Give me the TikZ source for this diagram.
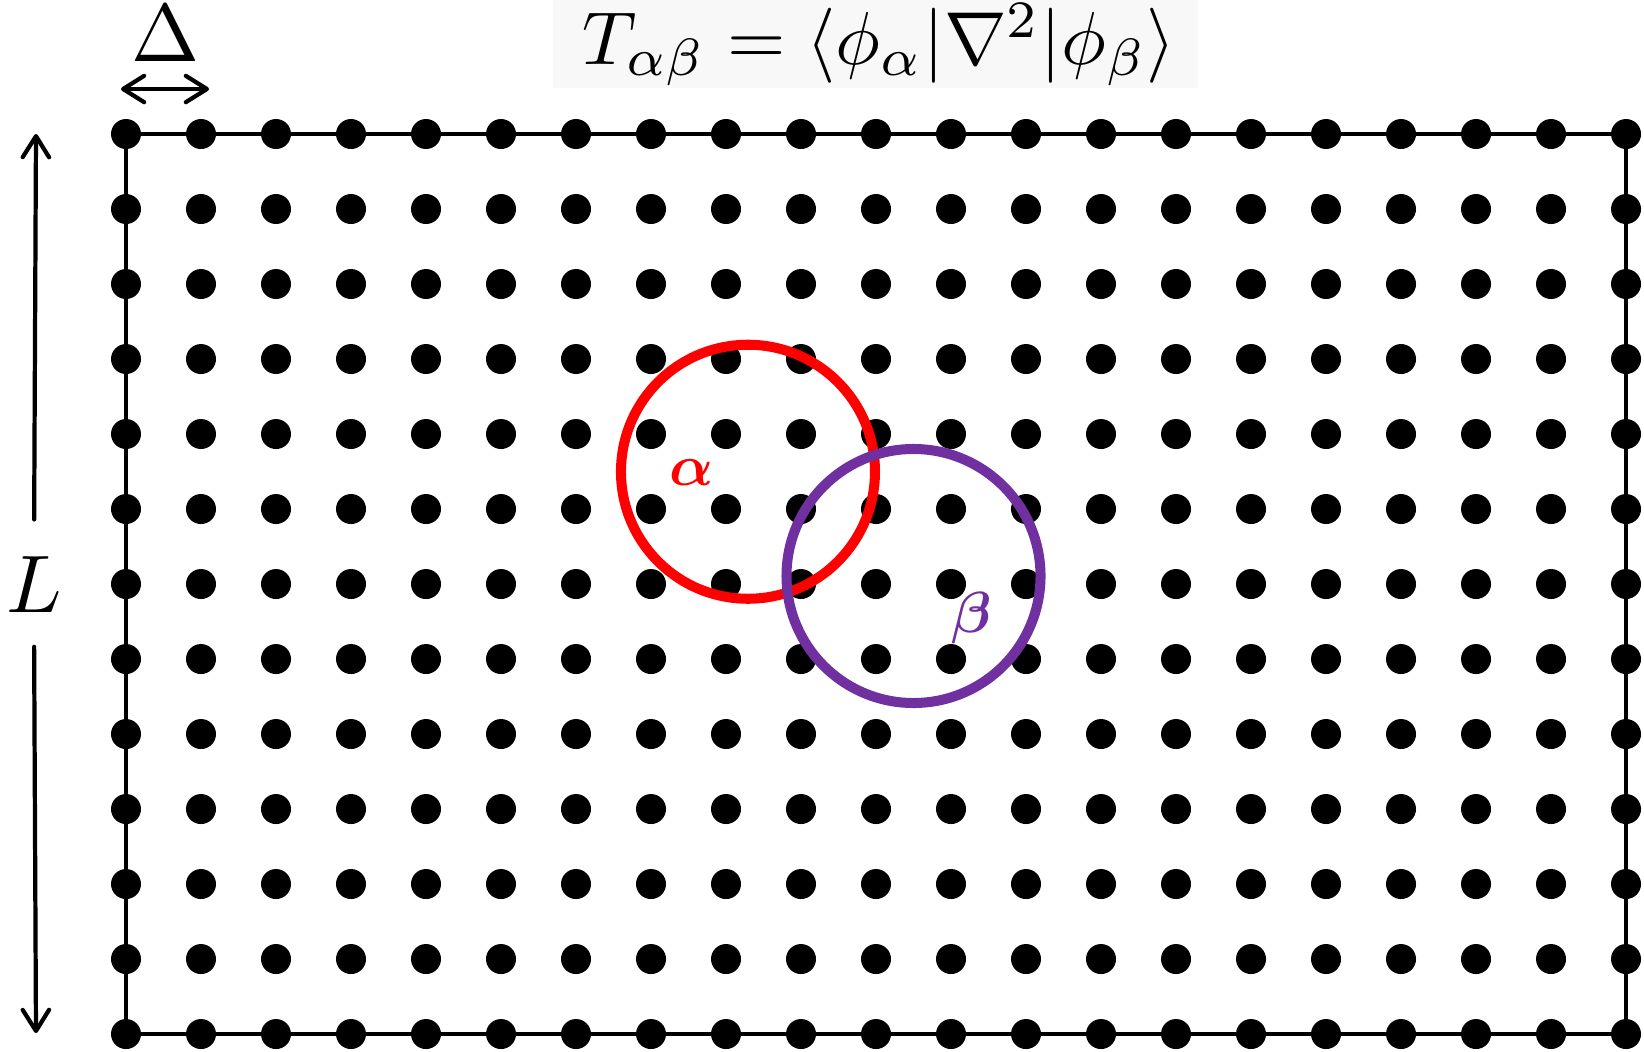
\documentclass[tikz,border=0pt]{standalone}
\usepackage{amsmath}
\usepackage{amssymb}
\usepackage{bm}
\usepackage{tikz}
\usetikzlibrary{arrows.meta,calc,positioning}

\definecolor{orbpurple}{RGB}{112,48,160}
\definecolor{boxgray}{RGB}{248,248,248}

\tikzset{
  site/.style={circle,fill=black,inner sep=0pt,minimum size=0.4cm},
  orbital/.style={circle,draw=#1,line width=3.8pt,inner sep=0pt,minimum size=3.387cm},
  barb/.style={line width=1.6pt,line cap=round},
  dim/.style={barb,{Straight Barb[length=8pt,width=10pt,round]}-{Straight Barb[length=8pt,width=10pt,round]}},
}

\begin{document}
\begin{tikzpicture}
    \useasboundingbox (-1.68,-0.227) rectangle (20.24,13.787);

    % formula at the top
    \fill[boxgray] (5.693,12.613) rectangle (14.293,13.787);
    \node[anchor=base west,inner sep=0pt,scale=2.85] (Tab) at (6.07,12.93)
      {$T_{\alpha\beta} = \langle \phi_\alpha | \nabla^2 | \phi_\beta \rangle$};

    % grid points
    \foreach \i in {0,...,20}
      \foreach \j in {0,...,12}
        \node[site] (s\i-\j) at (\i,\j) {};
    \draw[line width=1.5pt] (s0-0.center) rectangle (s20-12.center);

    % lattice spacing
    \coordinate (dl) at (-0.067,12.6);
    \coordinate (dr) at (1.107,12.6);
    \draw[dim] (dl) -- (dr);
    \node[inner sep=0pt,scale=3.1] (Delta) at (0.533,13.333) {$\Delta$};

    % box length
    \coordinate (lt) at (-1.2,12);
    \coordinate (lb) at (-1.2,0.013);
    \node[inner sep=0pt,scale=3.1] (Lbl) at (-1.227,5.987) {$L$};
    \draw[barb,-{Straight Barb[length=8pt,width=10pt,round]},shorten <=0.48cm] (Lbl.north) -- (lt);
    \draw[barb,-{Straight Barb[length=8pt,width=10pt,round]},shorten <=0.43cm] (Lbl.south) -- (lb);

    % orbitals
    \node[orbital=red] (orbA) at (8.293,7.497) {};
    \node[orbital=orbpurple] (orbB) at (10.5,6.107) {};
    \node[red,scale=2.2] (alab) at (7.54,7.48) {$\bm{\alpha}$};
    \node[orbpurple,scale=2.2] (blab) at (11.276,5.55) {$\bm{\beta}$};
  \end{tikzpicture}
\end{document}
